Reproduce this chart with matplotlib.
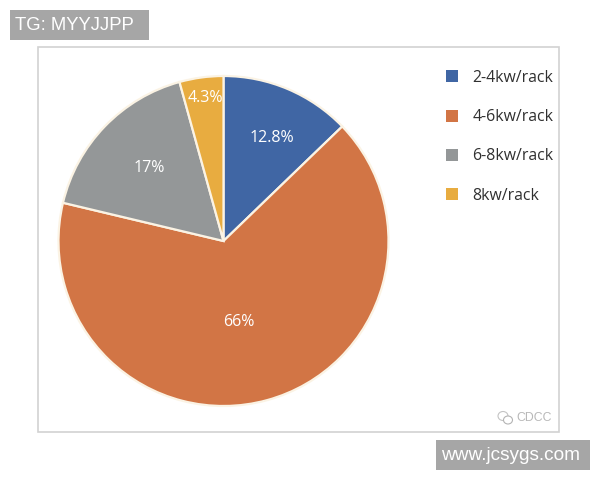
import matplotlib
matplotlib.use('Agg')
import matplotlib.pyplot as plt
from matplotlib.patches import Rectangle, Ellipse

categories = ['2-4kw/rack', '4-6kw/rack', '6-8kw/rack', '8kw/rack']
values = [12.8, 66, 17, 4.3]
value_labels = ['12.8%', '66%', '17%', '4.3%']
colors = ['#4066A4', '#D27545', '#949798', '#E8AC40']

W, H = 600, 480


def px_axes(fig, left, top, right, bottom):
    return fig.add_axes([left / W, 1 - bottom / H, (right - left) / W, (bottom - top) / H])


def main():
    plt.rcParams['font.family'] = ['Open Sans', 'DejaVu Sans']
    fig = plt.figure(figsize=(6, 4.8), dpi=100)

    # page layer in pixel coordinates
    bg = fig.add_axes([0, 0, 1, 1])
    bg.set_xlim(0, W)
    bg.set_ylim(H, 0)
    bg.axis('off')
    bg.add_patch(Rectangle((37.5, 46.5), 521, 385, fc='white', ec='#D2D2D2', lw=1.2))
    bg.add_patch(Rectangle((10, 10), 139, 30, fc='#A6A6A6', ec='none'))
    bg.text(15, 26, 'TG: MYYJJPP', color='white', fontsize=13.3, va='center',
            family='Liberation Sans')
    bg.add_patch(Rectangle((436, 440), 154, 30, fc='#A6A6A6', ec='none'))
    bg.text(441, 455, 'www.jcsygs.com', color='white', fontsize=13.7, va='center',
            family='Liberation Sans')

    # small watermark
    bg.add_patch(Ellipse((503, 416), 10, 9, fc='white', ec='#C4C4C4', lw=0.8))
    bg.add_patch(Ellipse((508, 420), 9, 8, fc='white', ec='#B4B4B4', lw=0.8))
    bg.text(516, 418, 'CDCC', color='#B8B8B8', fontsize=8.8, va='center', family='Liberation Sans')

    # legend
    for i, name in enumerate(categories):
        y = [76, 115.5, 155, 194][i]
        bg.add_patch(Rectangle((445.5, y - 6), 12, 12, fc=colors[i], ec='none'))
        bg.text(472.5, y + 1.5, name, color='#303030', fontsize=11.4, va='center')

    # pie
    ax = px_axes(fig, 58.5, 76, 388.5, 406)
    ax.pie(values, colors=colors, startangle=90, counterclock=False,
           radius=1.0, wedgeprops={'edgecolor': '#FBF3E4', 'linewidth': 1.6})
    ax.set_xlim(-1, 1)
    ax.set_ylim(-1, 1)

    # labels must sit above the pie, so draw them on a top layer
    label_pos = [(271.5, 138.5), (239, 322), (149, 167.5), (205, 98)]
    top = fig.add_axes([0, 0, 1, 1])
    top.set_xlim(0, W)
    top.set_ylim(H, 0)
    top.axis('off')
    for (x, y), lab in zip(label_pos, value_labels):
        top.text(x, y, lab, color='white', fontsize=11.5, ha='center', va='center')

    fig.savefig('out.png', dpi=100)


if __name__ == '__main__':
    main()
